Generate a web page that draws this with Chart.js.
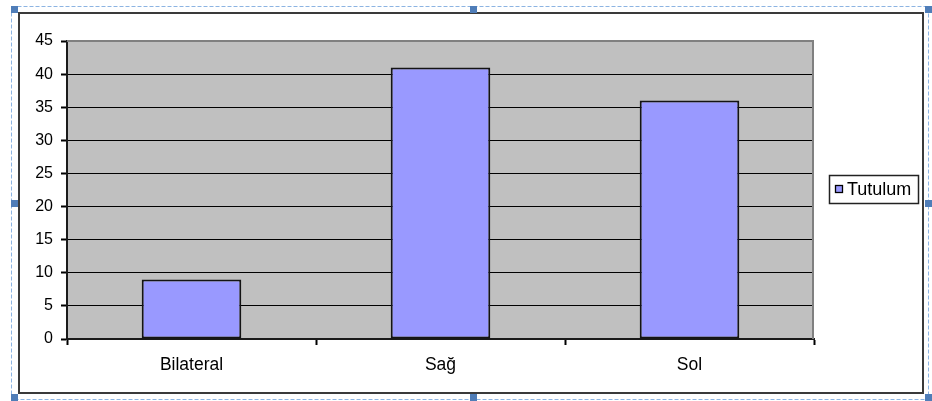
<!DOCTYPE html>
<html>
<head>
<meta charset="utf-8">
<script src="https://cdn.jsdelivr.net/npm/chart.js@4/dist/chart.umd.min.js"></script>
<style>
  html, body { margin: 0; padding: 0; background: #ffffff; }
  #wrap { width: 932px; height: 401px; position: relative; }
</style>
</head>
<body>
<div id="wrap"><canvas id="c" width="932" height="401"></canvas></div>
<script>
// Chart data
const categories = ['Bilateral', 'Sağ', 'Sol'];
const seriesName = 'Tutulum';
const seriesValues = [9, 41, 36];
const yTicks = [0, 5, 10, 15, 20, 25, 30, 35, 40, 45];

const FONT = '"Liberation Sans", Arial, sans-serif';
const BAR_FILL = '#9999FF';
const PLOT_FILL = '#C0C0C0';

// Background, plot area fill, frame, legend and selection handles
const framePlugin = {
  id: 'frame',
  beforeDraw(chart) {
    const { ctx, chartArea: a } = chart;
    ctx.save();
    ctx.fillStyle = '#ffffff';
    ctx.fillRect(0, 0, chart.width, chart.height);
    ctx.fillStyle = PLOT_FILL;
    ctx.fillRect(a.left, a.top, a.right - a.left, a.bottom - a.top);
    ctx.restore();
  },
  afterDatasetsDraw(chart) {
    const { ctx, chartArea: a } = chart;
    ctx.save();
    ctx.strokeStyle = '#808080';
    ctx.lineWidth = 2;
    ctx.beginPath();
    ctx.moveTo(a.left, a.top);
    ctx.lineTo(a.right - 1, a.top);
    ctx.lineTo(a.right - 1, a.bottom);
    ctx.stroke();
    ctx.restore();
  },
  afterDraw(chart) {
    const ctx = chart.ctx;
    ctx.save();

    // chart frame
    ctx.strokeStyle = '#3a3a3a';
    ctx.lineWidth = 2;
    ctx.strokeRect(19, 13, 904, 380);

    // legend
    const ds = chart.data.datasets[0];
    ctx.lineWidth = 1.5;
    ctx.strokeStyle = '#222';
    ctx.strokeRect(829.5, 175.5, 89, 28);
    ctx.fillStyle = ds.backgroundColor;
    ctx.fillRect(835.5, 185.5, 7, 7);
    ctx.lineWidth = 1.3;
    ctx.strokeStyle = '#000';
    ctx.strokeRect(835.5, 185.5, 7, 7);
    ctx.fillStyle = '#000';
    ctx.font = '18px ' + FONT;
    ctx.textBaseline = 'middle';
    ctx.textAlign = 'left';
    ctx.fillText(ds.label, 847, 190);

    // dashed selection outline
    ctx.strokeStyle = '#8DB4E2';
    ctx.lineWidth = 1;
    ctx.setLineDash([4, 2]);
    ctx.strokeRect(11.5, 6.5, 917, 393);
    ctx.setLineDash([]);

    // selection handles
    ctx.fillStyle = '#4F7DB8';
    const hx = [11, 470, 925];
    const hy = [6, 200, 394];
    hx.forEach((x, i) => hy.forEach((y, j) => {
      if (i === 1 && j === 1) return;
      ctx.fillRect(x, y, 7, 7);
    }));
    ctx.restore();
  }
};

new Chart(document.getElementById('c'), {
  type: 'bar',
  data: {
    labels: categories,
    datasets: [{
      label: seriesName,
      data: seriesValues,
      backgroundColor: BAR_FILL,
      borderColor: '#141414',
      borderWidth: 2,
      borderSkipped: false,
      categoryPercentage: 1,
      barPercentage: 0.4
    }]
  },
  options: {
    responsive: false,
    animation: false,
    devicePixelRatio: 1,
    layout: { padding: { top: 41, right: 118, bottom: 0, left: 0 } },
    plugins: {
      legend: { display: false },
      tooltip: { enabled: false }
    },
    scales: {
      x: {
        grid: {
          offset: true,
          drawOnChartArea: false,
          color: '#000000',
          tickLength: 6,
          tickWidth: 2,
          lineWidth: 1
        },
        border: { color: '#1a1a1a', width: 2 },
        ticks: {
          color: '#000000',
          padding: 10,
          font: { family: FONT, size: 17.5 }
        },
        afterFit(scale) { scale.height = 62; }
      },
      y: {
        min: yTicks[0],
        max: yTicks[yTicks.length - 1],
        afterBuildTicks(scale) { scale.ticks = yTicks.map(v => ({ value: v })); },
        grid: {
          color: ctx => (ctx.tick && ctx.tick.value === yTicks[yTicks.length - 1]) ? '#808080' : '#000000',
          tickColor: '#000000',
          tickLength: 6,
          tickWidth: 2,
          lineWidth: 1
        },
        border: { color: '#1a1a1a', width: 2 },
        ticks: {
          color: '#000000',
          padding: 8,
          font: { family: FONT, size: 16 }
        },
        afterFit(scale) { scale.width = 67; }
      }
    }
  },
  plugins: [framePlugin]
});
</script>
</body>
</html>
